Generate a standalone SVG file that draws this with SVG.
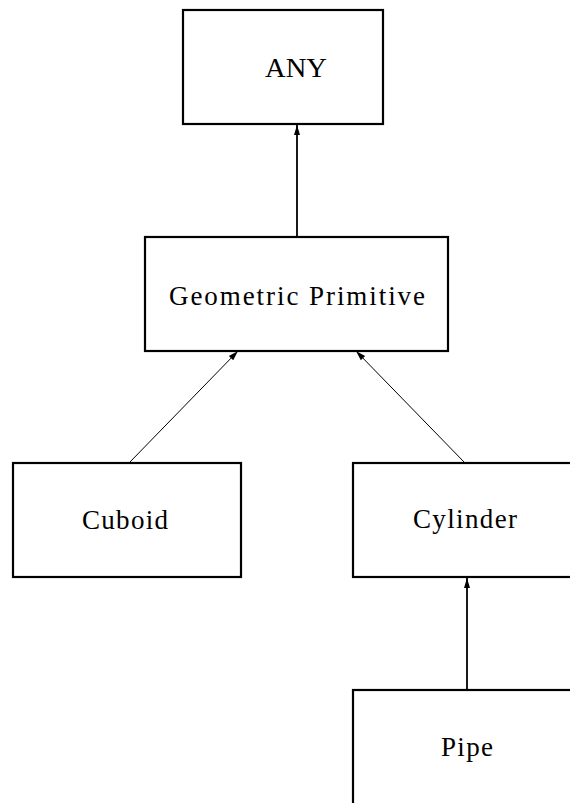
<svg xmlns="http://www.w3.org/2000/svg" width="570" height="803" viewBox="0 0 570 803">
<style>
.box{fill:#fff;stroke:#000;stroke-width:2.2}
.edge{stroke:#000;fill:none}
.lbl{font-family:'Liberation Serif',serif;font-size:27px;fill:#000}
</style>
<defs>
<marker id="ah" viewBox="0 0 10 10" refX="10" refY="5" markerWidth="10" markerHeight="10" markerUnits="userSpaceOnUse" orient="auto">
<path d="M0,2 L10,5 L0,8 Z" fill="#000"/>
</marker>
</defs>
<rect width="570" height="803" fill="#fff"/>
<g id="connectors">
<line class="edge" x1="297" y1="237" x2="297" y2="125" stroke-width="1.8" marker-end="url(#ah)"/>
<line class="edge" x1="129" y1="463" x2="238" y2="351" stroke-width="1" marker-end="url(#ah)"/>
<line class="edge" x1="465" y1="463" x2="356" y2="351" stroke-width="1" marker-end="url(#ah)"/>
<line class="edge" x1="467" y1="690" x2="467" y2="578" stroke-width="1.8" marker-end="url(#ah)"/>
</g>
<g id="any">
<rect class="box" x="183" y="10" width="200" height="114"/>
<text class="lbl" x="265" y="76.5" textLength="62" lengthAdjust="spacingAndGlyphs">ANY</text>
</g>
<g id="geometric-primitive">
<rect class="box" x="145" y="237" width="303" height="114"/>
<text class="lbl" x="169" y="305" textLength="256" lengthAdjust="spacing">Geometric Primitive</text>
</g>
<g id="cuboid">
<rect class="box" x="13" y="463" width="228" height="114"/>
<text class="lbl" x="82" y="529" textLength="86" lengthAdjust="spacing">Cuboid</text>
</g>
<g id="cylinder">
<rect class="box" x="353" y="463" width="228" height="114"/>
<text class="lbl" x="413" y="527.5" textLength="104" lengthAdjust="spacing">Cylinder</text>
</g>
<g id="pipe">
<rect class="box" x="353" y="690" width="228" height="130"/>
<text class="lbl" x="441" y="756" textLength="52" lengthAdjust="spacing">Pipe</text>
</g>
</svg>
